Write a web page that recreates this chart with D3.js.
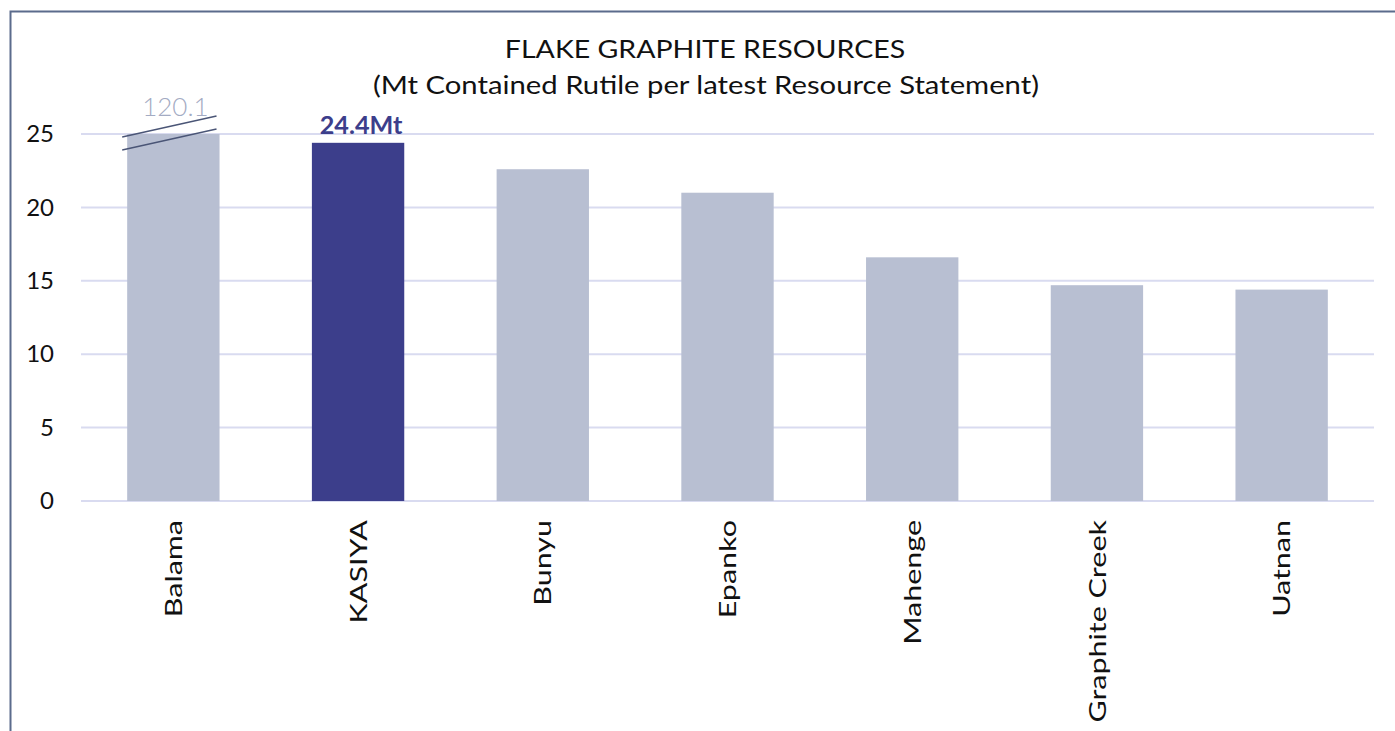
<!DOCTYPE html>
<html><head><meta charset="utf-8">
<script src="https://cdn.jsdelivr.net/npm/d3@7"></script>
<style>
html,body{margin:0;padding:0;background:#fff;}
svg{display:block;}
svg text{font-family:"Century Gothic","Lato","Open Sans",sans-serif;}
</style></head>
<body>
<svg id="c" width="1395" height="731"></svg>
<script>
const categories = ["Balama","KASIYA","Bunyu","Epanko","Mahenge","Graphite Creek","Uatnan"];
const values = [120.1, 24.4, 22.6, 21.0, 16.6, 14.7, 14.4];
const highlight = ["KASIYA"];
const yTicks = [0,5,10,15,20,25];
const axisMax = 25;
const titleLines = ["FLAKE GRAPHITE RESOURCES","(Mt Contained Rutile per latest Resource Statement)"];

const svg = d3.select("#c");
const W = 1395, H = 731;
const m = {left:81, right:21};

function stretch(sel, f){
  sel.each(function(){
    const w = this.getComputedTextLength();
    d3.select(this).attr("textLength", w*f).attr("lengthAdjust","spacingAndGlyphs");
  });
}

// frame
svg.append("path").attr("d","M10.5,731 L10.5,11.5 L1395,11.5")
  .attr("fill","none").attr("stroke","#5b6b8c").attr("stroke-width",2);

const x = d3.scaleBand().domain(categories).range([m.left, W-m.right]).paddingInner(0.5).paddingOuter(0.25);
const y = d3.scaleLinear().domain([0,axisMax]).range([501,134]);

// gridlines
svg.append("g").selectAll("line").data(yTicks).join("line")
  .attr("x1",m.left).attr("x2",W-m.right)
  .attr("y1",d=>y(d)).attr("y2",d=>y(d))
  .attr("stroke","#d9dbf0").attr("stroke-width",2);

// y axis
const ya = svg.append("g").attr("transform",`translate(${m.left},0)`)
  .call(d3.axisLeft(y).tickValues(yTicks).tickSize(0).tickPadding(27));
ya.attr("font-family",null).attr("font-size",null);
ya.select(".domain").remove();
ya.selectAll("text").attr("font-size",24).attr("fill","#111");

// bars
svg.append("g").selectAll("rect").data(categories).join("rect")
  .attr("x",d=>x(d)).attr("width",x.bandwidth())
  .attr("y",(d,i)=>y(Math.min(values[i],axisMax)))
  .attr("height",(d,i)=>y(0)-y(Math.min(values[i],axisMax)))
  .attr("fill",d=>highlight.includes(d)?"#3c3e8b":"#b8bfd2");

// x axis labels
const xa = svg.append("g").attr("transform",`translate(0,${y(0)})`)
  .call(d3.axisBottom(x).tickSize(0).tickPadding(0));
xa.attr("font-family",null).attr("font-size",null);
xa.select(".domain").remove();
xa.selectAll("text").attr("font-size",24).attr("fill","#111")
  .attr("text-anchor","end").attr("dy","0.36em")
  .attr("transform","translate(0,19) rotate(-90)").attr("x",0).attr("y",0);
stretch(xa.selectAll("text"), 1.27);

// value labels
categories.forEach((c,i)=>{
  if(values[i] > axisMax){
    const cx = x(c)+x.bandwidth()/2;
    svg.append("text").attr("x",cx+2).attr("y",y(axisMax)-18)
      .attr("text-anchor","middle").attr("font-size",26).attr("font-weight",300)
      .attr("fill","#a3abc3").text(values[i].toFixed(1));
    const x0 = x(c)-5, x1 = x(c)+x.bandwidth()-3;
    [0,13].forEach(off=>{
      svg.append("line").attr("x1",x0).attr("x2",x1)
        .attr("y1",y(axisMax)+3+off).attr("y2",y(axisMax)-18+off)
        .attr("stroke","#4a5576").attr("stroke-width",1.3);
    });
  } else if(highlight.includes(c)){
    const t = svg.append("text").attr("x",x(c)+x.bandwidth()/2+3).attr("y",y(values[i])-9)
      .attr("text-anchor","middle").attr("font-size",24).attr("font-weight","bold")
      .attr("fill","#3c3e8b").text(values[i].toFixed(1)+"Mt");
    stretch(t, 1.05);
  }
});

// titles
const t1 = svg.append("text").attr("x",705).attr("y",58).attr("text-anchor","middle")
  .attr("font-size",25).attr("fill","#111").text(titleLines[0]);
const t2 = svg.append("text").attr("x",706).attr("y",94).attr("text-anchor","middle")
  .attr("font-size",25).attr("fill","#111").text(titleLines[1]);
stretch(t1, 1.14);
stretch(t2, 1.17);
</script>
</body></html>
